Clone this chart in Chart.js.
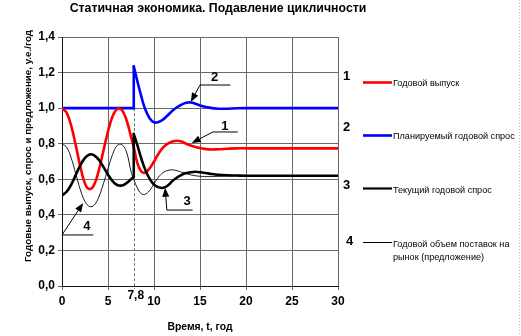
<!DOCTYPE html>
<html>
<head>
<meta charset="utf-8">
<script src="https://cdn.jsdelivr.net/npm/chart.js@4.4.1/dist/chart.umd.min.js"></script>
<style>
html,body{margin:0;padding:0;background:#fff;}
canvas{display:block;}
</style>
</head>
<body>
<canvas id="c" width="521" height="336"></canvas>
<script>
// ---- data ----
const chartTitle = 'Статичная экономика. Подавление цикличности';
const xTitle = 'Время, t, год';
const yTitle = 'Годовые выпуск, спрос и предложение, у.е./год';
const seriesNames = ['Годовой выпуск', 'Планируемый годовой спрос', 'Текущий годовой спрос', 'Годовой объем поставок на|рынок (предложение)'];
const switchTime = 7.8;
const switchLabel = '7,8';

const tBefore = [0,0.5,1,1.5,2,2.5,3,3.5,4,4.5,5,5.5,6,6.5,7,7.5,7.8];
const tAfter  = [7.8,8.2,8.6,9,9.5,10,10.5,11,11.5,12,12.5,13,13.5,14,14.5,15,16,17,18,19,20,22,25,30];

// 1 - Годовой выпуск
const outputBefore = [1.0,0.975,0.90,0.79,0.67,0.575,0.545,0.57,0.65,0.76,0.87,0.955,0.995,0.99,0.935,0.84,0.78];
const outputAfter  = [0.78,0.69,0.645,0.637,0.66,0.70,0.745,0.78,0.80,0.812,0.817,0.812,0.80,0.79,0.782,0.776,0.768,0.769,0.772,0.774,0.774,0.774,0.774,0.774];
// 2 - Планируемый годовой спрос
const plannedBefore = [1,1,1,1,1,1,1,1,1,1,1,1,1,1,1,1,1];
const plannedAfter  = [1.235,1.15,1.07,1.0,0.945,0.92,0.922,0.937,0.96,0.985,1.005,1.02,1.03,1.032,1.025,1.015,1.003,0.997,0.997,0.999,1.0,1.0,1.0,1.0];
// 3 - Текущий годовой спрос
const currentBefore = [0.51,0.53,0.57,0.625,0.68,0.72,0.74,0.735,0.71,0.67,0.625,0.59,0.568,0.565,0.578,0.60,0.615];
const currentAfter  = [0.855,0.79,0.72,0.66,0.605,0.57,0.555,0.552,0.565,0.59,0.61,0.625,0.635,0.64,0.642,0.64,0.632,0.625,0.622,0.621,0.62,0.62,0.62,0.62];
// 4 - Годовой объем поставок (предложение)
const supplyBefore = [0.80,0.78,0.72,0.63,0.54,0.475,0.447,0.455,0.50,0.575,0.66,0.74,0.79,0.795,0.755,0.645,0.60];
const supplyAfter  = [0.60,0.55,0.52,0.515,0.535,0.575,0.613,0.638,0.65,0.653,0.648,0.64,0.632,0.625,0.62,0.617,0.615,0.617,0.619,0.62,0.62,0.62,0.62,0.62];

const xTicks = [0,5,10,15,20,25,30];
const yTicks = [0,0.2,0.4,0.6,0.8,1.0,1.2,1.4];

// ---- helpers ----
const pts = (xs, ys) => xs.map((x, i) => ({x: x, y: ys[i]}));
const join = (a, b) => a.concat(b.slice(1));

const RED = '#ff0000', BLUE = '#0000ff', BLACK = '#000000';
const FONT = '"Liberation Sans", Arial, sans-serif';

function line(data, color, width, tension) {
  return {data: data, borderColor: color, borderWidth: width, pointRadius: 0, tension: tension, fill: false, borderCapStyle: 'round', borderJoinStyle: 'round'};
}

const datasets = [
  line(pts(join(tBefore, tAfter), join(supplyBefore, supplyAfter)), BLACK, 0.9, 0.4),
  line(pts(tBefore, currentBefore), BLACK, 2.6, 0.4),
  line(pts([switchTime, switchTime], [currentBefore[currentBefore.length-1], currentAfter[0]]), BLACK, 2.6, 0),
  line(pts(tAfter, currentAfter), BLACK, 2.6, 0.4),
  line(pts(join(tBefore, tAfter), join(outputBefore, outputAfter)), RED, 2.6, 0.4),
  line(pts(tBefore, plannedBefore), BLUE, 2.6, 0.4),
  line(pts([switchTime, switchTime], [plannedBefore[plannedBefore.length-1], plannedAfter[0]]), BLUE, 2.6, 0),
  line(pts(tAfter, plannedAfter), BLUE, 2.6, 0.4)
];

function fitFont(ctx, text, weight, targetW, family) {
  ctx.font = weight + ' 20px ' + family;
  const w = ctx.measureText(text).width;
  return 20 * targetW / w;
}

const decor = {
  id: 'decor',
  beforeDatasetsDraw(chart) {
    const {ctx, scales: {x, y}} = chart;
    ctx.save();
    ctx.strokeStyle = '#777';
    ctx.lineWidth = 1;
    ctx.setLineDash([3, 2]);
    const px = Math.round(x.getPixelForValue(switchTime)) + 0.5;
    ctx.beginPath();
    ctx.moveTo(px, y.getPixelForValue(1.0));
    ctx.lineTo(px, y.getPixelForValue(0) + 3);
    ctx.stroke();
    ctx.restore();
  },
  afterDraw(chart) {
    const {ctx, scales: {x, y}} = chart;
    const X = v => x.getPixelForValue(v), Y = v => y.getPixelForValue(v);
    ctx.save();
    ctx.fillStyle = '#000';
    ctx.textBaseline = 'middle';

    // title
    let fs = fitFont(ctx, chartTitle, 'bold', 297, FONT);
    ctx.font = 'bold ' + fs.toFixed(2) + 'px ' + FONT;
    ctx.textAlign = 'center';
    ctx.fillText(chartTitle, 218, 9);

    // x title
    fs = fitFont(ctx, xTitle, 'bold', 65, FONT);
    ctx.font = 'bold ' + fs.toFixed(2) + 'px ' + FONT;
    ctx.fillText(xTitle, 200, 327);

    // switch label
    ctx.font = 'bold 12px ' + FONT;
    ctx.fillText(switchLabel, X(switchTime) + 2, 296);

    // y title
    fs = fitFont(ctx, yTitle, 'bold', 232, FONT);
    ctx.save();
    ctx.translate(28, 146);
    ctx.rotate(-Math.PI / 2);
    ctx.font = 'bold ' + fs.toFixed(2) + 'px ' + FONT;
    ctx.fillText(yTitle, 0, 0);
    ctx.restore();

    // annotations: [label, labelPos, lineStart, lineEnd (horizontal), arrowTip]
    const ann = [
      ['2', [16.6, 1.17], [15.0, 1.13], [18.3, 1.13], [14.0, 1.035]],
      ['1', [17.7, 0.90], [16.4, 0.866], [19.1, 0.866], [14.1, 0.804]],
      ['3', [13.6, 0.478], [11.4, 0.427], [14.2, 0.427], [11.2, 0.552]],
      ['4', [2.7, 0.335], [0.0, 0.287], [3.4, 0.287], [2.3, 0.467]]
    ];
    ctx.font = 'bold 13px ' + FONT;
    ann.forEach(a => {
      ctx.fillText(a[0], X(a[1][0]), Y(a[1][1]));
      ctx.strokeStyle = '#000';
      ctx.lineWidth = 1;
      ctx.setLineDash([]);
      ctx.beginPath();
      ctx.moveTo(X(a[3][0]), Y(a[3][1]));
      ctx.lineTo(X(a[2][0]), Y(a[2][1]));
      const tx = X(a[4][0]), ty = Y(a[4][1]);
      const sx = X(a[2][0]), sy = Y(a[2][1]);
      const ang = Math.atan2(ty - sy, tx - sx);
      const L = 9, Wd = 3.5;
      const bx = tx - L * Math.cos(ang), by = ty - L * Math.sin(ang);
      ctx.lineTo(bx, by);
      ctx.stroke();
      ctx.beginPath();
      ctx.moveTo(tx, ty);
      ctx.lineTo(bx + Wd * Math.sin(ang), by - Wd * Math.cos(ang));
      ctx.lineTo(bx - Wd * Math.sin(ang), by + Wd * Math.cos(ang));
      ctx.closePath();
      ctx.fill();
    });

    // legend
    const legY = [82, 135, 188, 242];
    const numY = [76, 127, 185, 241];
    const cols = [RED, BLUE, BLACK, BLACK];
    const widths = [2.6, 2.6, 2.2, 1];
    ctx.textAlign = 'left';
    for (let i = 0; i < 4; i++) {
      ctx.font = 'bold 13px ' + FONT;
      ctx.fillText(String(i + 1), i === 3 ? 346 : 343, numY[i]);
      ctx.strokeStyle = cols[i];
      ctx.lineWidth = widths[i];
      ctx.beginPath();
      ctx.moveTo(363, legY[i] + 0.5);
      ctx.lineTo(392, legY[i] + 0.5);
      ctx.stroke();
    }
    const lfs = fitFont(ctx, seriesNames[1], 'normal', 122, FONT);
    ctx.font = lfs.toFixed(2) + 'px ' + FONT;
    ctx.fillText(seriesNames[0], 393, 83);
    ctx.fillText(seriesNames[1], 393, 136);
    ctx.fillText(seriesNames[2], 393, 190);
    const parts = seriesNames[3].split('|');
    ctx.fillText(parts[0], 393, 244);
    ctx.fillText(parts[1], 393, 257);

    // faint frame line on the right
    ctx.strokeStyle = '#bbb';
    ctx.lineWidth = 1;
    ctx.setLineDash([1, 2]);
    ctx.beginPath();
    ctx.moveTo(519.5, 0);
    ctx.lineTo(519.5, 336);
    ctx.stroke();
    ctx.restore();
  }
};

new Chart(document.getElementById('c'), {
  type: 'line',
  data: {datasets: datasets},
  plugins: [decor],
  options: {
    responsive: false,
    devicePixelRatio: 1,
    animation: false,
    layout: {padding: {left: 0, right: 183, top: 37, bottom: 0}},
    plugins: {legend: {display: false}, tooltip: {enabled: false}, title: {display: false}},
    scales: {
      x: {
        type: 'linear', min: 0, max: 30,
        afterBuildTicks: s => { s.ticks = xTicks.map(v => ({value: v})); },
        afterFit: s => { s.height = 50; },
        grid: {color: '#6a6a6a', lineWidth: 1, tickLength: 4, drawTicks: true},
        border: {color: '#111', width: 1},
        ticks: {color: '#000', padding: 4, maxRotation: 0, font: {family: FONT, weight: 'bold', size: 12}, callback: v => String(v)}
      },
      y: {
        type: 'linear', min: 0, max: 1.4,
        afterBuildTicks: s => { s.ticks = yTicks.map(v => ({value: v})); },
        afterFit: s => { s.width = 62; },
        grid: {color: '#6a6a6a', lineWidth: 1, tickLength: 4, drawTicks: true},
        border: {color: '#111', width: 1},
        ticks: {color: '#000', padding: 3, font: {family: FONT, weight: 'bold', size: 12}, callback: v => v.toFixed(1).replace('.', ',')}
      }
    }
  }
});
</script>
</body>
</html>
